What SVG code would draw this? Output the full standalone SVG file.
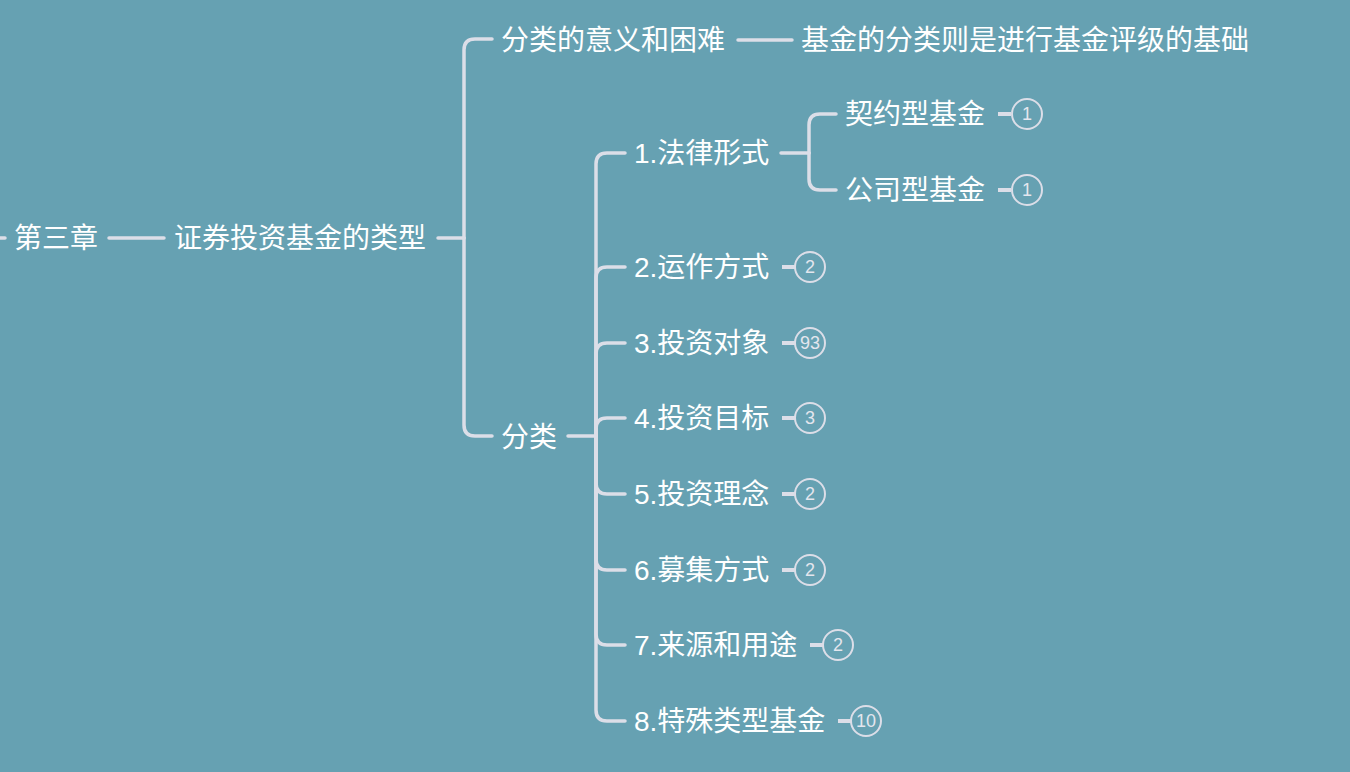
<svg xmlns="http://www.w3.org/2000/svg" width="1350" height="772" viewBox="0 0 1350 772">
<style>
.t{font-family:"Liberation Sans","Noto Sans CJK SC",sans-serif;font-size:28px;fill:#ffffff}
.ln{fill:none;stroke:#dcdee8;stroke-width:3.5;stroke-linecap:round}
.bc{fill:none;stroke:#dcdee8;stroke-width:2}
.bs{stroke:#dcdee8;stroke-width:4}
.bn{font-family:"Liberation Sans",sans-serif;font-size:18px;fill:#e4e6ee;text-anchor:middle}
</style>
<rect width="1350" height="772" fill="#66a1b2"/>
<g id="connectors">
<path class="ln" d="M0 238 H5"/>
<path class="ln" d="M109 238 H164"/>
<path class="ln" d="M438 238 H464"/>
<path class="ln" d="M464 238 V50 Q464 39 475 39 H492"/>
<path class="ln" d="M464 238 V425 Q464 436 475 436 H492"/>
<path class="ln" d="M738 40 H792"/>
<path class="ln" d="M568 436 H596"/>
<path class="ln" d="M596 436 V164 Q596 153 607 153 H625"/>
<path class="ln" d="M596 436 V278 Q596 267 607 267 H625"/>
<path class="ln" d="M596 436 V354 Q596 343 607 343 H625"/>
<path class="ln" d="M596 436 V429 Q596 418 607 418 H625"/>
<path class="ln" d="M596 436 V483 Q596 494 607 494 H625"/>
<path class="ln" d="M596 436 V559 Q596 570 607 570 H625"/>
<path class="ln" d="M596 436 V634 Q596 645 607 645 H625"/>
<path class="ln" d="M596 436 V710 Q596 721 607 721 H625"/>
<path class="ln" d="M781 153 H809"/>
<path class="ln" d="M809 153 V125 Q809 114 820 114 H836"/>
<path class="ln" d="M809 153 V179 Q809 190 820 190 H836"/>
</g>
<g id="n-ch3"><text class="t" x="14" y="248">第三章</text></g>
<g id="n-types"><text class="t" x="174" y="248">证券投资基金的类型</text></g>
<g id="n-meaning"><text class="t" x="501" y="50">分类的意义和困难</text></g>
<g id="n-basis"><text class="t" x="801" y="50">基金的分类则是进行基金评级的基础</text></g>
<g id="n-class"><text class="t" x="501" y="447">分类</text></g>
<g id="n-1"><text class="t" x="634" y="163">1.法律形式</text></g>
<g id="n-1a"><text class="t" x="845" y="124">契约型基金</text><path class="bs" d="M998 114 H1011"/><circle class="bc" cx="1027" cy="114" r="15"/><text class="bn" x="1027" y="120">1</text></g>
<g id="n-1b"><text class="t" x="845" y="200">公司型基金</text><path class="bs" d="M998 190 H1011"/><circle class="bc" cx="1027" cy="190" r="15"/><text class="bn" x="1027" y="196">1</text></g>
<g id="n-2"><text class="t" x="634" y="277">2.运作方式</text><path class="bs" d="M782 267 H795"/><circle class="bc" cx="810" cy="267" r="15"/><text class="bn" x="810" y="273">2</text></g>
<g id="n-3"><text class="t" x="634" y="353">3.投资对象</text><path class="bs" d="M782 343 H795"/><circle class="bc" cx="810" cy="343" r="15"/><text class="bn" x="810" y="349">93</text></g>
<g id="n-4"><text class="t" x="634" y="428">4.投资目标</text><path class="bs" d="M782 418 H795"/><circle class="bc" cx="810" cy="418" r="15"/><text class="bn" x="810" y="424">3</text></g>
<g id="n-5"><text class="t" x="634" y="504">5.投资理念</text><path class="bs" d="M782 494 H795"/><circle class="bc" cx="810" cy="494" r="15"/><text class="bn" x="810" y="500">2</text></g>
<g id="n-6"><text class="t" x="634" y="580">6.募集方式</text><path class="bs" d="M782 570 H795"/><circle class="bc" cx="810" cy="570" r="15"/><text class="bn" x="810" y="576">2</text></g>
<g id="n-7"><text class="t" x="634" y="655">7.来源和用途</text><path class="bs" d="M810 645 H823"/><circle class="bc" cx="838" cy="645" r="15"/><text class="bn" x="838" y="651">2</text></g>
<g id="n-8"><text class="t" x="634" y="731">8.特殊类型基金</text><path class="bs" d="M838 721 H851"/><circle class="bc" cx="866" cy="721" r="15"/><text class="bn" x="866" y="727">10</text></g>
</svg>
